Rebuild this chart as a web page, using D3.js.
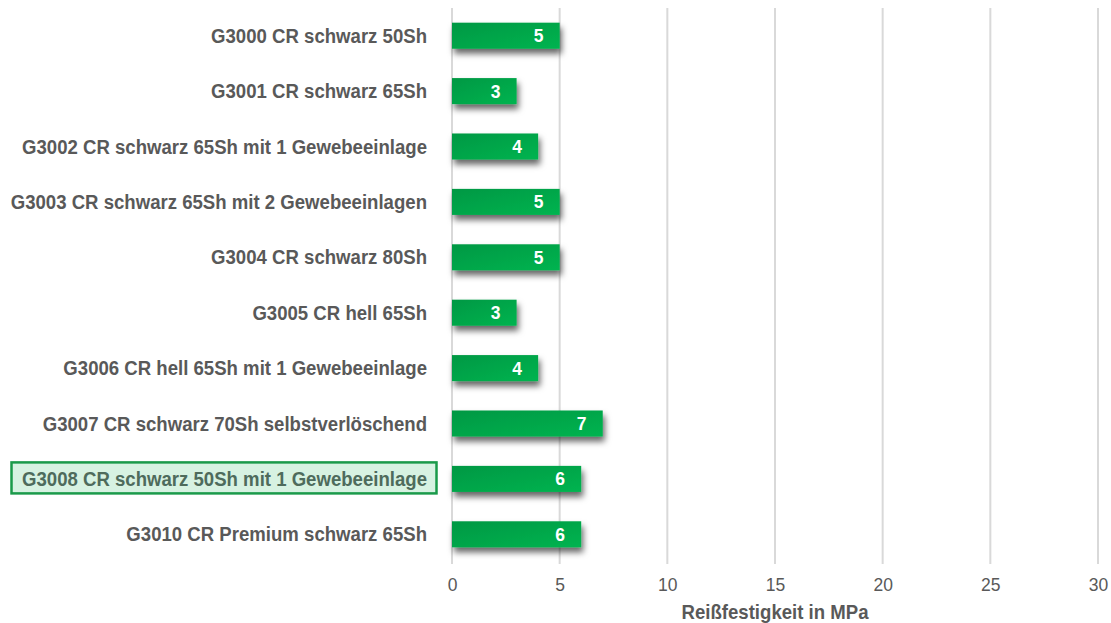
<!DOCTYPE html>
<html>
<head>
<meta charset="utf-8">
<script src="https://cdn.jsdelivr.net/npm/d3@7"></script>
<style>
body { margin: 0; background: #fff; }
</style>
</head>
<body>
<div id="chart"></div>
<script>
var categories = [
  "G3000 CR schwarz 50Sh",
  "G3001 CR schwarz 65Sh",
  "G3002 CR schwarz 65Sh mit 1 Gewebeeinlage",
  "G3003 CR schwarz 65Sh mit 2 Gewebeeinlagen",
  "G3004 CR schwarz 80Sh",
  "G3005 CR hell 65Sh",
  "G3006 CR hell 65Sh mit 1 Gewebeeinlage",
  "G3007 CR schwarz 70Sh selbstverlöschend",
  "G3008 CR schwarz 50Sh mit 1 Gewebeeinlage",
  "G3010 CR Premium schwarz 65Sh"
];
var values = [5, 3, 4, 5, 5, 3, 4, 7, 6, 6];
var xTicks = [0, 5, 10, 15, 20, 25, 30];
var highlighted = "G3008 CR schwarz 50Sh mit 1 Gewebeeinlage";
var axisTitle = "Reißfestigkeit in MPa";

var w = 1111;
var h = 623;
var font = "'Liberation Sans', Arial, sans-serif";

var svg = d3.select("#chart")
            .append("svg")
            .attr("width", w)
            .attr("height", h);

var xScale = d3.scaleLinear()
              .domain([0, 30])
              .range([452, 1098]);

var yScale = d3.scaleBand()
              .domain(categories)
              .range([8, 562])
              .paddingInner(0.53)
              .paddingOuter(0.265);

var defs = svg.append("defs");
var grad = defs.append("linearGradient")
              .attr("id", "barGrad")
              .attr("x1", "0%").attr("y1", "0%")
              .attr("x2", "100%").attr("y2", "100%");
grad.append("stop").attr("offset", "0%").attr("stop-color", "#009843");
grad.append("stop").attr("offset", "100%").attr("stop-color", "#00b450");

var shadow = defs.append("filter")
              .attr("id", "shadow")
              .attr("x", "-10%").attr("y", "-40%")
              .attr("width", "130%").attr("height", "220%");
shadow.append("feDropShadow")
      .attr("dx", 2).attr("dy", 5)
      .attr("stdDeviation", 3)
      .attr("flood-color", "#000")
      .attr("flood-opacity", 0.6);

// gridlines
svg.append("g")
  .selectAll("line")
  .data(xTicks)
  .enter()
  .append("line")
  .attr("x1", d => xScale(d))
  .attr("x2", d => xScale(d))
  .attr("y1", 8)
  .attr("y2", 564)
  .attr("stroke", "#d9d9d9")
  .attr("stroke-width", 2);

// tick labels
var xAxis = d3.axisBottom(xScale)
              .tickValues(xTicks)
              .tickSize(0)
              .tickPadding(0);
var gx = svg.append("g")
  .attr("transform", "translate(0,591)")
  .call(xAxis);
gx.select(".domain").remove();
gx.selectAll("text")
  .attr("y", 0)
  .attr("dy", 0)
  .attr("font-family", font)
  .attr("font-size", 17.5)
  .attr("fill", "#595959")
  .attr("transform", "scale(1,1.05)");

svg.append("text")
  .attr("transform", "translate(" + xScale(15) + ",619) scale(1,1.1)")
  .attr("text-anchor", "middle")
  .attr("font-family", font)
  .attr("font-weight", "bold")
  .attr("font-size", 18.6)
  .attr("fill", "#595959")
  .text(axisTitle);

// highlight box
svg.append("rect")
  .attr("x", 11.5)
  .attr("y", yScale(highlighted) + yScale.bandwidth() / 2 - 16.5)
  .attr("width", 425)
  .attr("height", 31)
  .attr("fill", "#d7f2e2")
  .attr("stroke", "#1a9a4a")
  .attr("stroke-width", 2.5);

// bars
svg.append("g")
  .selectAll("rect")
  .data(values)
  .enter()
  .append("rect")
  .attr("x", xScale(0))
  .attr("y", (d, i) => yScale(categories[i]))
  .attr("width", d => xScale(d) - xScale(0))
  .attr("height", yScale.bandwidth())
  .attr("fill", "url(#barGrad)")
  .attr("filter", "url(#shadow)");

// value labels
svg.append("g")
  .selectAll("text")
  .data(values)
  .enter()
  .append("text")
  .attr("transform", (d, i) => "translate(" + (xScale(d) - 21) + "," + (yScale(categories[i]) + yScale.bandwidth() / 2 + 6.5) + ") scale(1,1.08)")
  .attr("text-anchor", "middle")
  .attr("font-family", font)
  .attr("font-weight", "bold")
  .attr("font-size", 17.5)
  .attr("fill", "#fff")
  .text(d => d);

// category labels
svg.append("g")
  .selectAll("text")
  .data(categories)
  .enter()
  .append("text")
  .attr("transform", d => "translate(427," + (yScale(d) + yScale.bandwidth() / 2 + 7) + ") scale(1,1.12)")
  .attr("text-anchor", "end")
  .attr("font-family", font)
  .attr("font-weight", "bold")
  .attr("font-size", 18.6)
  .attr("fill", d => d === highlighted ? "#4e6b5c" : "#595959")
  .text(d => d);
</script>
</body>
</html>
